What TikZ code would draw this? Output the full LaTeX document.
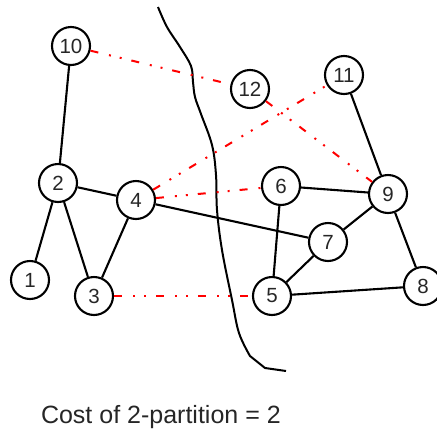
\documentclass[tikz,border=0pt]{standalone}
\usepackage{fontspec}
\setmainfont{Liberation Sans}
\usetikzlibrary{positioning}

\begin{document}
\begin{tikzpicture}[x=1pt, y=-1pt,
  line width=2.1pt,
  vertex/.style={circle, draw, fill=white, minimum size=38pt, inner sep=0pt,
    font=\fontsize{20.5}{20.5}\selectfont, text=black!85},
  cut/.style={red, line width=2pt,
    dash pattern=on 8pt off 11pt on 2pt off 9pt on 2pt off 10pt},
  split/.style={line width=2pt, line join=round}
]
\useasboundingbox (0,0) rectangle (437,432);

% the line that splits the graph in two
\draw[split] plot[smooth, tension=0.6] coordinates {
  (158,7) (167,27) (180,47) (191,66) (193,82) (195,97) (201,114)
  (212,145) (216,175) (217,210) (222,250) (232,300) (239,333)
  (250,356)} -- (265,368) -- (286,371);

% left half
\node[vertex] (n10) at (71,46)  {10};
\node[vertex] (n2)  at (58,183) {2};
\node[vertex] (n4)  at (136,200) {4};
\node[vertex] (n1)  at (30,280) {1};
\node[vertex] (n3)  at (94,296) {3};
% right half
\node[vertex] (n12) at (250,89) {12};
\node[vertex] (n11) at (344,75) {11};
\node[vertex] (n6)  at (281,186) {6};
\node[vertex] (n9)  at (388,194) {9};
\node[vertex] (n7)  at (328,242) {7};
\node[vertex] (n5)  at (272,296) {5};
\node[vertex] (n8)  at (423,286) {8};

\draw (n10) -- (n2);
\draw (n2) -- (n4);
\draw (n2) -- (n1);
\draw (n2) -- (n3);
\draw (n4) -- (n3);
\draw (n4) -- (n7);
\draw (n6) -- (n9);
\draw (n6) -- (n5);
\draw (n7) -- (n9);
\draw (n7) -- (n5);
\draw (n5) -- (n8);
\draw (n9) -- (n8);
\draw (n11) -- (n9);

% edges that cross the cut
\draw[cut] (n10) -- (n12);
\draw[cut] (n4) -- (n11);
\draw[cut] (n4) -- (n6);
\draw[cut] (n3) -- (n5);
\draw[cut] (n12) -- (n9);

\node[anchor=base west, inner sep=0pt, font=\fontsize{25}{25}\selectfont,
  text=black!85] (cost) at (40,423) {Cost of 2-partition = 2};
\end{tikzpicture}
\end{document}
